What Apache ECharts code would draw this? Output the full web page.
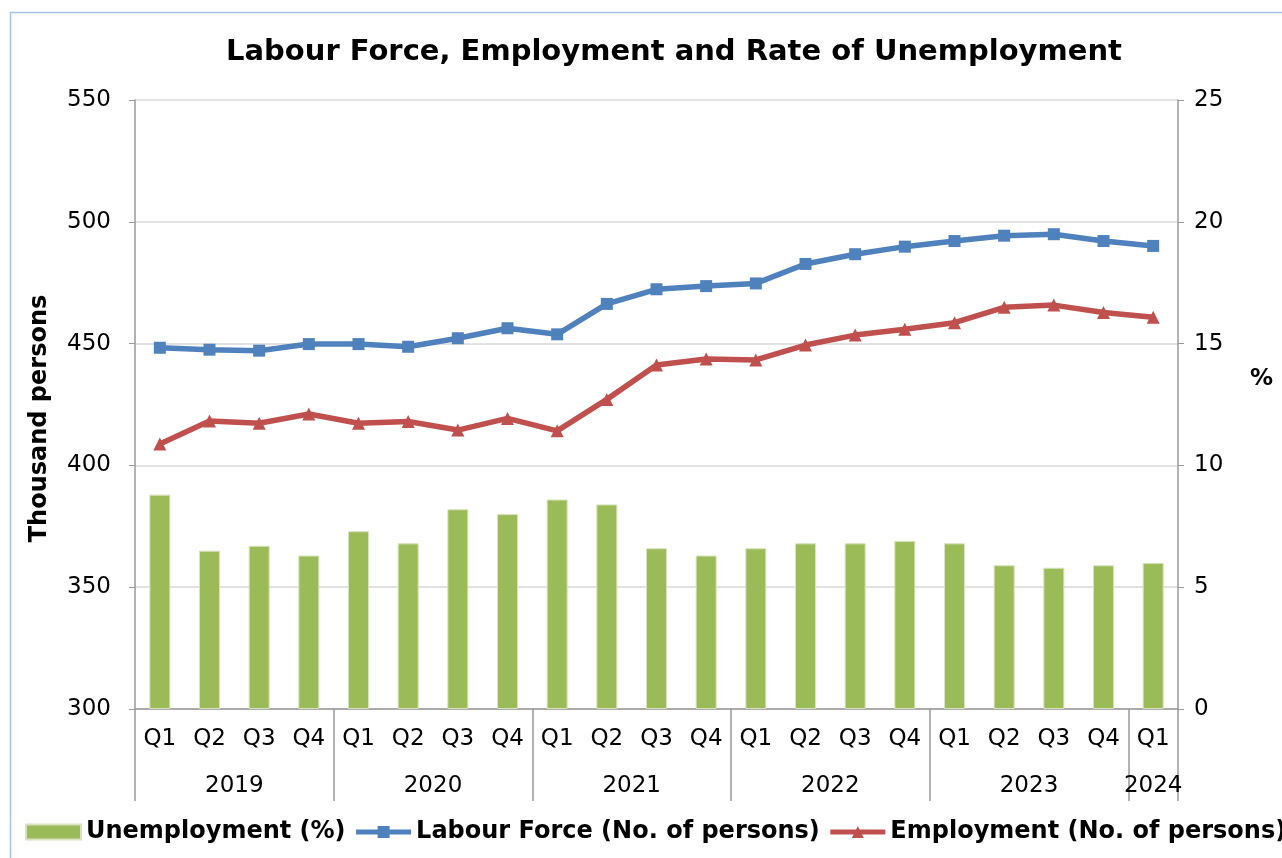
<!DOCTYPE html>
<html>
<head>
<meta charset="utf-8">
<script src="https://cdn.jsdelivr.net/npm/echarts@6/dist/echarts.min.js"></script>
<style>
html,body{margin:0;padding:0;background:#fff;}
#c{width:1282px;height:858px;}
</style>
</head>
<body>
<div id="c"></div>
<script>
const quarters = ['Q1','Q2','Q3','Q4','Q1','Q2','Q3','Q4','Q1','Q2','Q3','Q4','Q1','Q2','Q3','Q4','Q1','Q2','Q3','Q4','Q1'];
const years = ['2019','2020','2021','2022','2023','2024'];
const yearSpans = [4,4,4,4,4,1];
const unemployment = [8.8,6.5,6.7,6.3,7.3,6.8,8.2,8.0,8.6,8.4,6.6,6.3,6.6,6.8,6.8,6.9,6.8,5.9,5.8,5.9,6.0];
const labourForce = [448.3,447.5,447.1,449.8,449.8,448.7,452.2,456.3,453.8,466.3,472.3,473.6,474.7,482.7,486.7,489.8,492.1,494.3,494.9,492.1,490.1];
const employment = [408.8,418.2,417.3,421.1,417.3,418.0,414.5,419.3,414.2,427.1,441.2,443.7,443.3,449.4,453.5,455.9,458.6,464.9,465.8,462.8,460.8];

const FONT = 'DejaVu Sans';
const bounds = [0];
yearSpans.forEach(s => bounds.push(bounds[bounds.length-1] + s));
const mids = [];
for (let i = 0; i < yearSpans.length; i++) mids.push((bounds[i] + bounds[i+1]) / 2);

const chart = echarts.init(document.getElementById('c'));
chart.setOption({
  backgroundColor: '#fff',
  animation: false,
  textStyle: { fontFamily: FONT },
  graphic: [{
    type: 'rect', left: 8, top: 10, z: -1,
    shape: { width: 1320, height: 900 },
    style: { fill: 'none', stroke: '#a6c2e6', lineWidth: 1.5 }
  }, {
    type: 'text', left: 1250, top: 368,
    style: { text: '%', fontFamily: FONT, fontWeight: 'bold', fontSize: 23, fill: '#000' }
  }],
  title: {
    text: 'Labour Force, Employment and Rate of Unemployment',
    left: 221, top: 33,
    textStyle: { fontFamily: FONT, fontWeight: 'bold', fontSize: 29, color: '#000' }
  },
  legend: {
    left: 25, top: 820, width: 1280, padding: 0,
    itemWidth: 55, itemHeight: 15, itemGap: 8,
    lineStyle: { width: 5 },
    textStyle: { fontFamily: FONT, fontWeight: 'bold', fontSize: 24, color: '#000' },
    data: [{ name: 'Unemployment (%)', icon: 'rect' }, 'Labour Force (No. of persons)', 'Employment (No. of persons)']
  },
  grid: { left: 135, right: 104, top: 100, bottom: 149, containLabel: false },
  xAxis: [{
    type: 'category',
    data: quarters,
    boundaryGap: true,
    axisLine: { lineStyle: { color: '#999', width: 1.5 } },
    axisTick: { show: false },
    axisLabel: { fontFamily: FONT, fontSize: 23, color: '#000', margin: 19, interval: 0 }
  }, {
    type: 'value',
    min: 0, max: bounds[bounds.length-1],
    position: 'bottom',
    axisLine: { show: false },
    splitLine: { show: false },
    axisTick: { show: true, customValues: bounds, length: 92, lineStyle: { color: '#999', width: 1.5 } },
    axisLabel: {
      customValues: mids, fontFamily: FONT, fontSize: 23, color: '#000', margin: 66,
      formatter: v => years[mids.indexOf(v)]
    }
  }],
  yAxis: [{
    type: 'value', min: 300, max: 550, interval: 50,
    name: 'Thousand persons', nameLocation: 'middle', nameGap: 83,
    nameTextStyle: { fontFamily: FONT, fontWeight: 'bold', fontSize: 24, color: '#000', padding: [0, 28, 0, 0] },
    axisLine: { show: true, lineStyle: { color: '#999', width: 1.5 } },
    axisTick: { show: true, length: 6, lineStyle: { color: '#999' } },
    axisLabel: { fontFamily: FONT, fontSize: 23, color: '#000', margin: 24 },
    splitLine: { show: true, lineStyle: { color: '#d9d9d9', width: 1.5 } }
  }, {
    type: 'value', min: 0, max: 25, interval: 5,
    position: 'right',
    axisLine: { show: true, lineStyle: { color: '#999', width: 1.5 } },
    axisTick: { show: true, length: 6, lineStyle: { color: '#999' } },
    axisLabel: { fontFamily: FONT, fontSize: 23, color: '#000', margin: 16 },
    splitLine: { show: false }
  }],
  series: [{
    name: 'Unemployment (%)', type: 'bar', xAxisIndex: 0, yAxisIndex: 1,
    data: unemployment, barWidth: 21,
    itemStyle: { color: '#9bbb59', borderColor: '#d7e4bd', borderWidth: 1 }
  }, {
    name: 'Labour Force (No. of persons)', type: 'line', xAxisIndex: 0, yAxisIndex: 0,
    data: labourForce, symbol: 'rect', symbolSize: 12,
    lineStyle: { color: '#4f81bd', width: 5.5 },
    itemStyle: { color: '#4f81bd' }
  }, {
    name: 'Employment (No. of persons)', type: 'line', xAxisIndex: 0, yAxisIndex: 0,
    data: employment, symbol: 'triangle', symbolSize: 13,
    lineStyle: { color: '#c0504d', width: 5.5 },
    itemStyle: { color: '#c0504d' }
  }]
});
</script>
</body>
</html>
